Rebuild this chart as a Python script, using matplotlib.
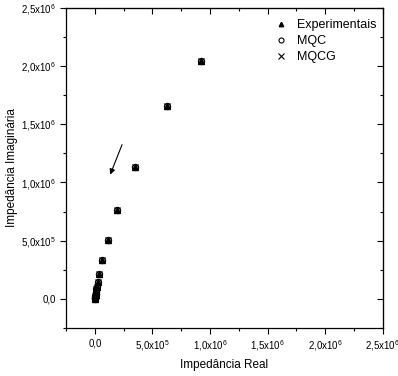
import matplotlib

matplotlib.use("Agg")
import matplotlib.pyplot as plt
from matplotlib.ticker import FuncFormatter, MultipleLocator

plt.rcParams.update(
    {
        "font.family": ["Liberation Sans", "DejaVu Sans"],
        "mathtext.default": "regular",
        "font.size": 8,
    }
)

# impedance data (Ohm)
z_real = [0.923e6, 0.626e6, 0.346e6, 0.19e6, 0.11e6, 0.06e6, 0.035e6, 0.023e6,
          0.017e6, 0.013e6, 0.010e6, 0.008e6, 0.006e6, 0.004e6, 0.002e6, 0.001e6, 0.0]
z_imag = [2.04e6, 1.655e6, 1.132e6, 0.759e6, 0.503e6, 0.33e6, 0.213e6, 0.14e6,
          0.103e6, 0.08e6, 0.06e6, 0.045e6, 0.03e6, 0.02e6, 0.01e6, 0.005e6, 0.0]
arrow_start = (0.245e6, 1.347e6)
arrow_end = (0.124e6, 1.045e6)


def fmt(v, pos):
    if abs(v) < 1:
        return "0,0"
    m = v / 1e6
    if abs(m) < 1:
        return f"{v / 1e5:.1f}".replace(".", ",") + "x10$^{5}$"
    return f"{m:.1f}".replace(".", ",") + "x10$^{6}$"


fig = plt.figure(figsize=(3.98, 3.76), dpi=100)
ax = fig.add_axes([0.166, 0.128, 0.796, 0.851])

ax.plot(z_real, z_imag, ls="none", marker="^", ms=4, color="black", label="Experimentais")
ax.plot(z_real, z_imag, ls="none", marker="o", ms=4.5, mfc="none", mec="black", mew=0.8, label="MQC")
ax.plot(z_real, z_imag, ls="none", marker="x", ms=5, color="black", mew=0.8, label="MQCG")

ax.annotate("", xy=arrow_end, xytext=arrow_start,
            arrowprops=dict(arrowstyle="-|>", color="black", lw=0.8, mutation_scale=8))

ax.set_xlim(-0.25e6, 2.5e6)
ax.set_ylim(-0.25e6, 2.5e6)
for axis in (ax.xaxis, ax.yaxis):
    axis.set_major_locator(MultipleLocator(0.5e6))
    axis.set_minor_locator(MultipleLocator(0.25e6))
    axis.set_major_formatter(FuncFormatter(fmt))

ax.tick_params(which="both", direction="out", labelsize=7, width=0.8)
ax.tick_params(which="major", length=4)
ax.tick_params(which="minor", length=2.5)
for s in ax.spines.values():
    s.set_linewidth(0.9)

# mirrored inward ticks on top/right
axt = ax.secondary_xaxis("top")
axr = ax.secondary_yaxis("right")
for sec, axis in ((axt, axt.xaxis), (axr, axr.yaxis)):
    axis.set_major_locator(MultipleLocator(0.5e6))
    axis.set_minor_locator(MultipleLocator(0.25e6))
    sec.tick_params(which="both", direction="in", labeltop=False, labelright=False, width=0.8)
    sec.tick_params(which="major", length=4)
    sec.tick_params(which="minor", length=2.5)

ax.set_xlabel("Impedância Real", fontsize=8.5)
ax.set_ylabel("Impedância Imaginária", fontsize=8.5, labelpad=2)

ax.legend(loc="upper right", bbox_to_anchor=(1.0, 0.985), frameon=False, fontsize=9,
          handletextpad=0.8, labelspacing=0.32, borderaxespad=0.1, handlelength=1.0,
          markerscale=0.8)

fig.savefig("out.png", dpi=100)
